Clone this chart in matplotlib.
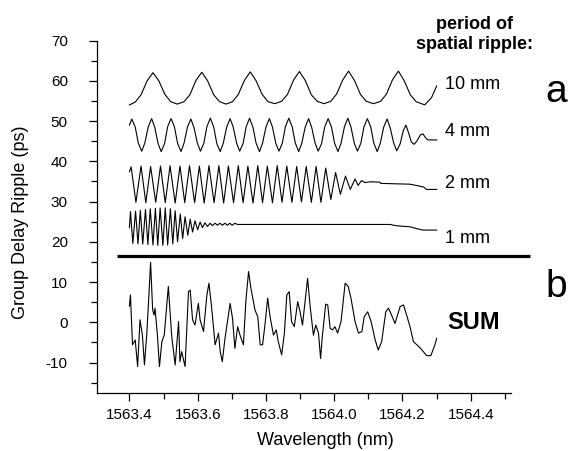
import matplotlib
matplotlib.use("Agg")
import matplotlib.pyplot as plt
from matplotlib.ticker import MultipleLocator

plt.rcParams["font.family"] = ["Liberation Sans", "DejaVu Sans"]
plt.rcParams["axes.unicode_minus"] = False

# group delay ripple (ps) vs wavelength (nm)
x_10mm = [1563.400, 1563.417, 1563.434, 1563.452, 1563.469, 1563.486, 1563.504, 1563.521, 1563.540,
          1563.560, 1563.577, 1563.595, 1563.612, 1563.629, 1563.647, 1563.664, 1563.683,
          1563.702, 1563.719, 1563.737, 1563.754, 1563.771, 1563.789, 1563.806, 1563.826,
          1563.846, 1563.863, 1563.881, 1563.898, 1563.915, 1563.933, 1563.950, 1563.970,
          1563.990, 1564.007, 1564.025, 1564.042, 1564.059, 1564.077, 1564.094, 1564.115,
          1564.136, 1564.153, 1564.171, 1564.188, 1564.205, 1564.223, 1564.240, 1564.265,
          1564.285, 1564.300]
y_10mm = [54.0, 54.7, 56.5, 60.0, 62.0, 60.0, 56.6, 54.8, 54.2,
          54.8, 56.5, 60.1, 62.1, 60.0, 56.5, 54.8, 54.2,
          54.8, 56.6, 60.1, 62.2, 60.0, 56.6, 54.8, 54.3,
          54.9, 56.6, 60.2, 62.3, 60.1, 56.5, 54.9, 54.3,
          54.9, 56.7, 60.2, 62.4, 60.1, 56.6, 54.9, 54.3,
          54.9, 56.7, 60.3, 62.4, 60.0, 56.5, 54.8, 54.0,
          55.8, 58.7]

x_4mm = [1563.400, 1563.407, 1563.417, 1563.426, 1563.436, 1563.445, 1563.455,
         1563.465, 1563.474, 1563.484, 1563.493, 1563.503, 1563.512,
         1563.522, 1563.532, 1563.541, 1563.551, 1563.560, 1563.570,
         1563.580, 1563.589, 1563.599, 1563.608, 1563.618, 1563.627,
         1563.637, 1563.647, 1563.656, 1563.666, 1563.675, 1563.685,
         1563.695, 1563.704, 1563.714, 1563.723, 1563.733, 1563.742,
         1563.752, 1563.762, 1563.771, 1563.781, 1563.790, 1563.800,
         1563.810, 1563.819, 1563.829, 1563.838, 1563.848, 1563.857,
         1563.867, 1563.877, 1563.886, 1563.896, 1563.905, 1563.915,
         1563.925, 1563.934, 1563.944, 1563.953, 1563.963, 1563.972,
         1563.982, 1563.992, 1564.001, 1564.011, 1564.020, 1564.030,
         1564.040, 1564.049, 1564.059, 1564.068, 1564.078, 1564.087,
         1564.097, 1564.107, 1564.116, 1564.126, 1564.135, 1564.145,
         1564.155, 1564.164, 1564.174, 1564.183, 1564.193, 1564.202,
         1564.210, 1564.218, 1564.226, 1564.234, 1564.242, 1564.252,
         1564.260, 1564.268, 1564.274, 1564.300]
y_4mm = [49.0, 50.5, 48.5, 44.5, 42.5, 44.5, 48.5,
         50.6, 48.5, 44.4, 42.4, 44.4, 48.6,
         50.6, 48.5, 44.5, 42.4, 44.5, 48.5,
         50.5, 48.4, 44.5, 42.5, 44.5, 48.6,
         50.7, 48.5, 44.4, 42.4, 44.5, 48.5,
         50.6, 48.5, 44.5, 42.5, 44.4, 48.6,
         50.7, 48.4, 44.5, 42.4, 44.5, 48.5,
         50.6, 48.5, 44.4, 42.5, 44.5, 48.6,
         50.7, 48.5, 44.5, 42.4, 44.5, 48.5,
         50.6, 48.4, 44.5, 42.5, 44.4, 48.5,
         50.6, 48.5, 44.5, 42.4, 44.5, 48.6,
         50.7, 48.5, 44.4, 42.5, 44.5, 48.5,
         50.6, 48.5, 44.5, 42.4, 44.5, 48.5,
         50.5, 48.3, 44.6, 42.6, 44.3, 47.5,
         49.0, 47.0, 44.8, 44.2, 45.0, 46.5,
         46.8, 45.8, 45.3, 45.3]

x_2mm = [1563.400, 1563.405, 1563.419, 1563.434, 1563.448, 1563.462, 1563.477, 1563.491,
         1563.505, 1563.519, 1563.534, 1563.548, 1563.562, 1563.576, 1563.591, 1563.605,
         1563.619, 1563.633, 1563.648, 1563.662, 1563.676, 1563.690, 1563.705, 1563.719,
         1563.733, 1563.747, 1563.762, 1563.776, 1563.790, 1563.804, 1563.819, 1563.833,
         1563.847, 1563.861, 1563.876, 1563.890, 1563.904, 1563.918, 1563.933, 1563.947,
         1563.961, 1563.975, 1563.990, 1564.004, 1564.018, 1564.033, 1564.047, 1564.061,
         1564.070, 1564.080, 1564.090, 1564.105, 1564.134, 1564.136, 1564.222, 1564.240,
         1564.262, 1564.270, 1564.300]
y_2mm = [37.4, 38.6, 29.8, 38.8, 29.7, 38.7, 29.8, 38.8,
         29.7, 38.9, 29.6, 38.8, 29.7, 38.9, 29.7, 38.8,
         29.6, 38.9, 29.7, 38.9, 29.6, 38.8, 29.7, 38.9,
         29.7, 38.8, 29.6, 38.9, 29.7, 38.8, 29.7, 38.9,
         29.8, 38.8, 29.8, 38.7, 29.9, 38.7, 29.8, 38.7,
         29.8, 38.3, 30.5, 37.2, 31.8, 36.3, 33.0, 35.6,
         34.0, 35.2, 34.7, 34.9, 34.8, 34.5, 34.3, 34.0,
         33.6, 33.0, 33.0]

x_1mm = [1563.400, 1563.403, 1563.410, 1563.418, 1563.425, 1563.432, 1563.439, 1563.447,
         1563.454, 1563.461, 1563.469, 1563.476, 1563.483, 1563.490, 1563.498, 1563.505,
         1563.512, 1563.520, 1563.527, 1563.534, 1563.541, 1563.549, 1563.556, 1563.563,
         1563.571, 1563.578, 1563.585, 1563.592, 1563.600, 1563.607, 1563.614, 1563.621,
         1563.629, 1563.636, 1563.643, 1563.651, 1563.658, 1563.665, 1563.672, 1563.680,
         1563.687, 1563.694, 1563.701, 1563.709, 1563.716, 1564.164, 1564.180, 1564.223,
         1564.240, 1564.260, 1564.300]
y_1mm = [23.5, 27.5, 19.6, 27.6, 19.5, 27.8, 19.4, 28.0,
         19.3, 28.2, 19.2, 28.3, 19.1, 28.4, 19.1, 28.4,
         19.2, 28.2, 19.5, 27.7, 20.0, 26.9, 20.8, 26.2,
         21.6, 25.6, 22.4, 25.2, 23.0, 24.9, 23.5, 24.7,
         23.8, 24.6, 24.0, 24.6, 24.1, 24.6, 24.1, 24.6,
         24.1, 24.6, 24.1, 24.6, 24.3, 24.3, 24.0, 23.7,
         23.3, 22.9, 22.9]

x_sum = [1563.400, 1563.403, 1563.409, 1563.417, 1563.424, 1563.431, 1563.438, 1563.444, 1563.451, 1563.456,
         1563.462, 1563.468, 1563.472, 1563.475, 1563.482, 1563.488, 1563.495, 1563.502, 1563.514, 1563.524,
         1563.534, 1563.544, 1563.548, 1563.553, 1563.563, 1563.573, 1563.578, 1563.585, 1563.592, 1563.602,
         1563.607, 1563.617, 1563.627, 1563.633, 1563.641, 1563.651, 1563.661, 1563.666, 1563.672, 1563.680,
         1563.695, 1563.702, 1563.709, 1563.717, 1563.724, 1563.734, 1563.741, 1563.749, 1563.756, 1563.768,
         1563.776, 1563.783, 1563.790, 1563.797, 1563.805, 1563.812, 1563.822, 1563.830, 1563.836, 1563.846,
         1563.854, 1563.861, 1563.868, 1563.875, 1563.883, 1563.893, 1563.900, 1563.907, 1563.915, 1563.922,
         1563.929, 1563.939, 1563.946, 1563.954, 1563.960, 1563.965, 1563.975, 1563.981, 1563.988, 1563.995,
         1564.002, 1564.010, 1564.020, 1564.032, 1564.041, 1564.049, 1564.061, 1564.071, 1564.081, 1564.088,
         1564.098, 1564.108, 1564.120, 1564.129, 1564.139, 1564.151, 1564.159, 1564.168, 1564.178, 1564.193,
         1564.203, 1564.212, 1564.222, 1564.232, 1564.252, 1564.271, 1564.283, 1564.295, 1564.300]
y_sum = [4.0, 6.8, -5.6, -4.4, -11.0, 0.6, -3.2, -10.6, -2.7, 5.1,
         14.9, 3.1, 1.8, 3.5, -3.2, -11.0, -4.8, -3.2, 8.9, -3.6,
         -10.6, 0.2, -9.8, -7.3, -11.0, 7.6, 8.0, 0.6, -0.7, 4.7,
         0.6, -2.3, 6.8, 9.7, 3.5, -5.6, -2.7, -7.3, -9.8, -4.0,
         4.7, 1.0, -6.5, -1.1, -3.2, -5.6, 5.1, 12.6, 8.4, 3.0,
         1.4, -5.6, -5.6, -0.7, 6.0, 1.4, -3.2, -1.9, -4.8, -8.1,
         -2.7, 6.8, 7.6, 0.2, -1.1, 5.1, 2.6, -0.7, 5.5, 10.9,
         4.3, -3.2, -0.7, -2.7, -9.0, -3.6, 4.5, 4.3, -1.5, -1.9,
         -1.1, -2.7, 0.2, 9.7, 8.9, 6.0, 0.2, -2.7, -2.3, 1.4,
         2.6, 0.2, -4.4, -6.9, -4.8, 2.6, 3.5, 1.8, -0.3, 3.9,
         4.3, 1.8, -1.1, -4.8, -6.4, -8.3, -8.3, -5.6, -4.0]

ripple_labels = ["10 mm", "4 mm", "2 mm", "1 mm"]
divider_x = [1563.365, 1564.575]
divider_y = [16.5, 16.5]

fig = plt.figure(figsize=(5.69, 4.51), dpi=100)
ax = fig.add_axes([97 / 569, 1 - 392.7 / 451, 413.7 / 569, 352.2 / 451])

for xs, ys in [(x_10mm, y_10mm), (x_4mm, y_4mm), (x_2mm, y_2mm), (x_1mm, y_1mm), (x_sum, y_sum)]:
    ax.plot(xs, ys, color="black", linewidth=0.8)

ax.plot(divider_x, divider_y, color="black", linewidth=2.3, clip_on=False, solid_capstyle="butt")

ax.set_xlim(1563.305, 1564.517)
ax.set_ylim(-17.5, 70)
ax.xaxis.set_major_locator(MultipleLocator(0.2))
ax.xaxis.set_minor_locator(MultipleLocator(0.1))
ax.yaxis.set_major_locator(MultipleLocator(10))
ax.yaxis.set_minor_locator(MultipleLocator(5))
ax.xaxis.set_major_formatter(plt.FuncFormatter(lambda v, p: f"{v:.1f}"))

for side in ["top", "right"]:
    ax.spines[side].set_visible(False)
for side in ["left", "bottom"]:
    ax.spines[side].set_linewidth(0.9)

ax.tick_params(axis="both", which="major", length=6, width=0.9, labelsize=11)
ax.tick_params(axis="both", which="minor", length=4, width=0.9)
ax.tick_params(axis="x", which="major", pad=5)
ax.tick_params(axis="y", which="major", pad=15)

ax.set_xlabel("Wavelength (nm)", fontsize=13)
ax.set_ylabel("Group Delay Ripple (ps)", fontsize=13)
ax.xaxis.set_label_coords(0.551, -0.112)
ax.yaxis.set_label_coords(-0.165, 0.485)

label_y = [59, 47.3, 34.4, 20.9]
for text, yy in zip(ripple_labels, label_y):
    ax.text(1564.325, yy, text, fontsize=13, ha="left", va="center", clip_on=False)

ax.text(1564.331, 0, "SUM", fontsize=17, fontweight="bold", ha="left", va="center")
ax.text(1564.618, 54.7, "a", fontsize=28, ha="left", va="baseline")
ax.text(1564.618, 6.3, "b", fontsize=28, ha="left", va="baseline")

fig.text(475 / 569, 1 - 29 / 451, "period of", fontsize=13, fontweight="bold", ha="center", va="baseline")
fig.text(475 / 569, 1 - 49 / 451, "spatial ripple:", fontsize=13, fontweight="bold", ha="center", va="baseline")

fig.savefig("out.png", dpi=100, facecolor="white")
